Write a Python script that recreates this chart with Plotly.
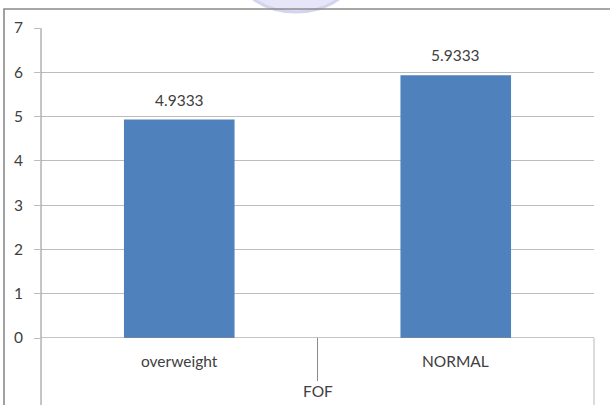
import plotly.graph_objects as go

categories = ["overweight", "NORMAL"]
values = [4.9333, 5.9333]
value_labels = ["4.9333", "5.9333"]
group_label = "FOF"
y_ticks = [0, 1, 2, 3, 4, 5, 6, 7]

W, H = 610, 405
L, R, T, B = 41, 16, 28, 67
pw, ph = W - L - R, H - T - B

def px_to_paper_x(px):
    return (px - L) / pw

def px_to_paper_y(py):
    return (H - B - py) / ph

FONT = "Lato"
TXT = "#404040"
GRID = "#bdbdbd"
AXIS = "#8c8c8c"
FS = 15.5

fig = go.Figure()
fig.add_trace(go.Bar(
    x=categories, y=values, width=0.4,
    marker=dict(color="#4f81bd", line=dict(width=0)),
    hoverinfo="skip",
))

for c, v, t in zip(categories, values, value_labels):
    fig.add_annotation(x=c, y=v, text=t, showarrow=False, yanchor="bottom",
                       yshift=9, font=dict(family=FONT, size=FS, color=TXT))

for c in categories:
    fig.add_annotation(x=c, y=px_to_paper_y(361), yref="paper", text=c,
                       showarrow=False, yanchor="middle",
                       font=dict(family=FONT, size=FS, color=TXT))

fig.add_annotation(x=px_to_paper_x((41 + 594) / 2), xref="paper",
                   y=px_to_paper_y(391), yref="paper", text=group_label,
                   showarrow=False, yanchor="middle",
                   font=dict(family=FONT, size=FS, color=TXT))

shapes = []
# watermark-like faint blob at top
shapes.append(dict(type="circle", xref="paper", yref="paper",
                   x0=px_to_paper_x(222), x1=px_to_paper_x(370),
                   y0=px_to_paper_y(-130), y1=px_to_paper_y(12),
                   fillcolor="#e6e6f8", line=dict(color="#d4d4f0", width=3),
                   layer="below"))
# outer border (left and top)
shapes.append(dict(type="path", xref="paper", yref="paper",
                   path=f"M {px_to_paper_x(4)} {px_to_paper_y(410)} L {px_to_paper_x(4)} {px_to_paper_y(9)} L {px_to_paper_x(615)} {px_to_paper_y(9)}",
                   line=dict(color="#8a8a8a", width=1.6)))
# left axis line extended down
shapes.append(dict(type="line", xref="paper", yref="paper",
                   x0=0, x1=0, y0=1, y1=px_to_paper_y(410),
                   line=dict(color=AXIS, width=1)))
# right vertical below axis
shapes.append(dict(type="line", xref="paper", yref="paper",
                   x0=1, x1=1, y0=0, y1=px_to_paper_y(410),
                   line=dict(color="#c4c4c4", width=1.2)))
# divider between categories
shapes.append(dict(type="line", xref="x", yref="paper",
                   x0=0.5, x1=0.5, y0=0, y1=px_to_paper_y(381),
                   line=dict(color=AXIS, width=1)))
# zero line
shapes.append(dict(type="line", xref="paper", yref="y",
                   x0=0, x1=1, y0=0, y1=0,
                   line=dict(color=AXIS, width=1.2)))

fig.update_layout(
    width=W, height=H,
    margin=dict(l=L, r=R, t=T, b=B, pad=0),
    paper_bgcolor="white", plot_bgcolor="white",
    showlegend=False,
    hovermode=False,
    shapes=shapes,
    xaxis=dict(range=[-0.5, 1.5], showticklabels=False, showgrid=False,
               zeroline=False, showline=False, ticks=""),
    yaxis=dict(range=[0, 7], tickvals=y_ticks, showgrid=True, gridcolor=GRID,
               gridwidth=1, zeroline=False, showline=False,
               ticks="outside", ticklen=6, tickcolor=GRID,
               ticklabelstandoff=8,
               tickfont=dict(family=FONT, size=FS, color=TXT)),
)

fig.write_html("out.html", config={"displayModeBar": False, "staticPlot": True},
               post_script="document.body.style.margin='0px';document.body.style.overflow='hidden';")
